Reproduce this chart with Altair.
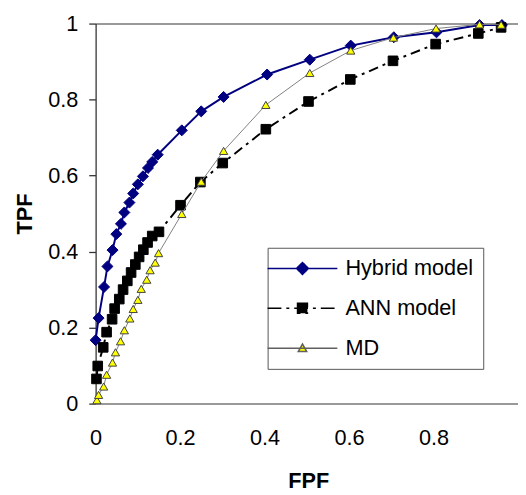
import altair as alt
import pandas as pd

series_names = ["Hybrid model", "ANN model", "MD"]

hybrid_fpf = [0.0, 0.007, 0.02, 0.028, 0.04, 0.049, 0.06, 0.068, 0.08, 0.089, 0.1, 0.112,
              0.124, 0.134, 0.147, 0.204, 0.25, 0.303, 0.406, 0.507, 0.604, 0.706, 0.807,
              0.909, 0.962]
hybrid_tpf = [0.167, 0.225, 0.307, 0.361, 0.404, 0.446, 0.473, 0.503, 0.529, 0.553, 0.577,
              0.598, 0.62, 0.636, 0.655, 0.719, 0.769, 0.807, 0.866, 0.905, 0.942, 0.964,
              0.977, 0.996, 0.996]

ann_fpf = [0.002, 0.005, 0.018, 0.026, 0.039, 0.045, 0.056, 0.065, 0.075, 0.084, 0.094,
           0.103, 0.113, 0.123, 0.134, 0.150, 0.201, 0.248, 0.301, 0.403, 0.504, 0.603,
           0.704, 0.805, 0.906, 0.960]
ann_tpf = [0.065, 0.099, 0.148, 0.188, 0.222, 0.25, 0.275, 0.3, 0.323, 0.345, 0.366,
           0.386, 0.405, 0.424, 0.441, 0.452, 0.522, 0.583, 0.633, 0.722, 0.795, 0.853,
           0.902, 0.946, 0.974, 0.99]

md_fpf = [0.003, 0.007, 0.019, 0.026, 0.04, 0.047, 0.059, 0.068, 0.081, 0.089, 0.1, 0.108,
          0.121, 0.129, 0.141, 0.149, 0.204, 0.25, 0.303, 0.403, 0.507, 0.604, 0.705,
          0.806, 0.909, 0.96]
md_tpf = [0.009, 0.023, 0.045, 0.076, 0.108, 0.135, 0.164, 0.193, 0.224, 0.249, 0.273,
          0.302, 0.326, 0.351, 0.371, 0.396, 0.499, 0.584, 0.665, 0.786, 0.87, 0.929,
          0.963, 0.987, 0.998, 0.997]

x_ticks = [0, 0.2, 0.4, 0.6, 0.8]
y_ticks = [0, 0.2, 0.4, 0.6, 0.8, 1]

rows = []
for name, xs, ys in [("Hybrid model", hybrid_fpf, hybrid_tpf),
                     ("ANN model", ann_fpf, ann_tpf),
                     ("MD", md_fpf, md_tpf)]:
    for i, (xv, yv) in enumerate(zip(xs, ys)):
        rows.append({"series": name, "fpf": xv, "tpf": yv, "order": i})
df = pd.DataFrame(rows)

FONT = "Liberation Sans"

x_enc = alt.X(
    "fpf:Q",
    scale=alt.Scale(domain=[0, 1], nice=False, zero=False),
    axis=alt.Axis(
        values=x_ticks, labelExpr="format(datum.value, '~g')", title="FPF",
        grid=False, ticks=False, tickSize=0, domainColor="#999999", domainWidth=2,
        labelFont=FONT, labelFontSize=22, labelColor="black", labelPadding=25,
        labelFlush=False, labelOverlap=False,
        titleFont=FONT, titleFontSize=22, titleFontWeight="bold", titleColor="black",
        titleX=216, titleY=85, titleAlign="center", titleBaseline="alphabetic",
    ),
)
y_enc = alt.Y(
    "tpf:Q",
    scale=alt.Scale(domain=[0, 1], nice=False, zero=False),
    axis=alt.Axis(
        values=y_ticks, labelExpr="format(datum.value, '~g')", title="TPF",
        grid=True, gridColor="#999999", gridWidth=2,
        gridOpacity=alt.condition("datum.value == 1", alt.value(1), alt.value(0)),
        ticks=True, tickSize=7, tickColor="#333333", tickWidth=1.3,
        domainColor="#333333", domainWidth=1.3,
        labelFont=FONT, labelFontSize=22, labelColor="black", labelPadding=11,
        labelFlush=False, labelOverlap=False,
        titleFont=FONT, titleFontSize=22, titleFontWeight="bold", titleColor="black",
        titleAngle=270, titleX=-72, titleY=193, titleAlign="center",
        titleBaseline="middle",
    ),
)

base = alt.Chart(df)


def series(name):
    return base.transform_filter(alt.datum.series == name)


hyb_line = series("Hybrid model").mark_line(color="#000080", strokeWidth=2).encode(
    x=x_enc, y=y_enc, order="order:Q")
hyb_pts = series("Hybrid model").mark_point(
    shape="diamond", filled=True, fill="#000080", stroke="#000080", strokeWidth=1,
    size=125, opacity=1).encode(x=x_enc, y=y_enc)

ann_line = series("ANN model").mark_line(
    color="black", strokeWidth=2, strokeDash=[10, 5, 3, 5]).encode(
    x=x_enc, y=y_enc, order="order:Q")
ann_pts = series("ANN model").mark_point(
    shape="square", filled=True, fill="black", stroke="black", strokeWidth=1,
    size=95, opacity=1).encode(x=x_enc, y=y_enc)

md_line = series("MD").mark_line(color="#808080", strokeWidth=1).encode(
    x=x_enc, y=y_enc, order="order:Q")
md_pts = series("MD").mark_point(
    shape="triangle-up", filled=True, fill="#ffff00", stroke="#404040", strokeWidth=1,
    size=70, opacity=1).encode(x=x_enc, y=y_enc)

legend_paths = [
    "M-3.5,0H8.3M2.4,-1L3.4,0L2.4,1L1.4,0Z",
    "M-3.5,0H8.3M1.57,-0.83H3.23V0.83H1.57Z",
    "M-3.5,0H8.3M2.4,-0.7L3.1,0.55H1.7Z",
]

legend_layer = base.transform_filter("false").mark_point(
    filled=True, size=144, opacity=1).encode(
    shape=alt.Shape("series:N", scale=alt.Scale(domain=series_names, range=legend_paths),
                    legend=alt.Legend(title=None)),
    fill=alt.Fill("series:N", scale=alt.Scale(domain=series_names,
                                              range=["#000080", "#000000", "#ffff00"]),
                  legend=alt.Legend(title=None)),
    stroke=alt.Stroke("series:N", scale=alt.Scale(domain=series_names,
                                                  range=["#000080", "#000000", "#606060"]),
                      legend=alt.Legend(title=None)),
    strokeDash=alt.StrokeDash("series:N",
                              scale=alt.Scale(domain=series_names,
                                              range=[[1, 0], [14, 5, 3, 5], [1, 0]]),
                              legend=alt.Legend(title=None)),
)

chart = alt.layer(
    hyb_line, hyb_pts, ann_line, ann_pts, md_line, md_pts, legend_layer
).properties(
    width=429, height=386,
    autosize=alt.AutoSizeParams(type="none"),
    padding={"left": 89, "top": 12, "right": 0, "bottom": 89},
    background="white",
).configure_view(
    stroke=None
).configure_legend(
    orient="none", legendX=174.7, legendY=227.7,
    padding=10, rowPadding=18.5,
    labelFont=FONT, labelFontSize=22, labelColor="black", labelOffset=47,
    strokeColor="#555555", fillColor="white",
    symbolSize=144, symbolStrokeWidth=1.6, symbolOpacity=1,
)

chart.save("out.html", embed_options={"renderer": "svg", "actions": False})
